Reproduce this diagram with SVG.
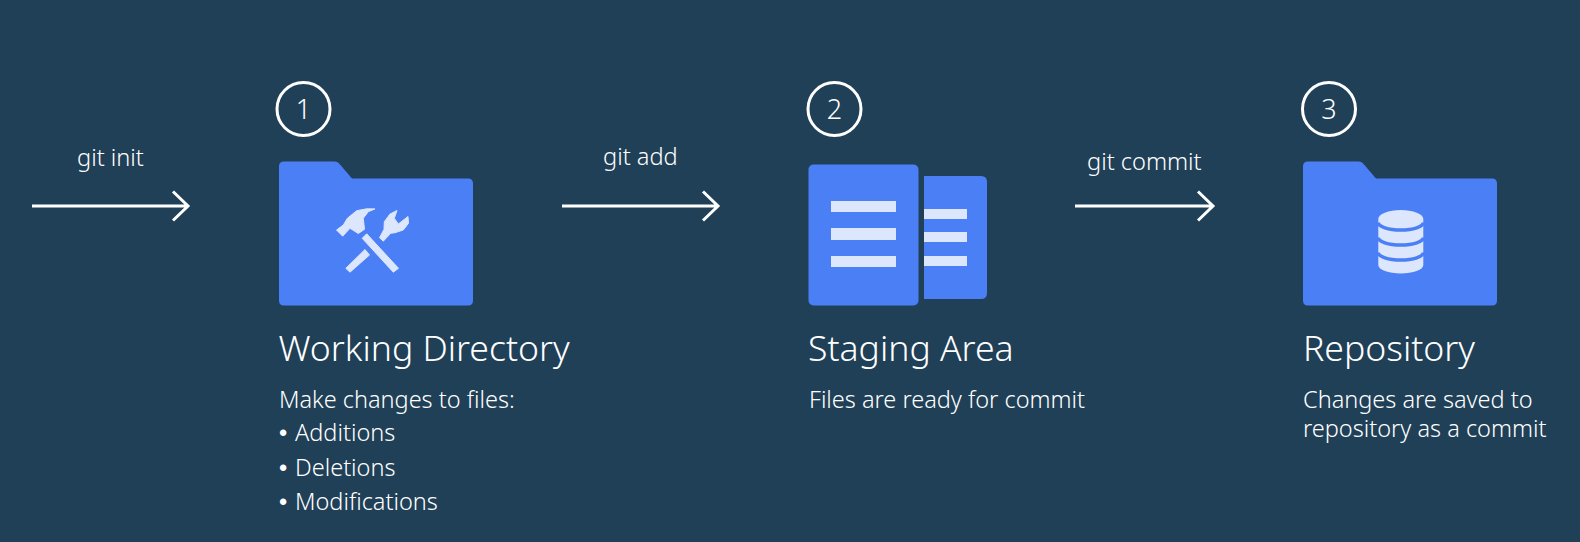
<svg xmlns="http://www.w3.org/2000/svg" width="1580" height="542" viewBox="0 0 1580 542">
<style>
text{font-family:"Noto Sans","Open Sans","Liberation Sans",sans-serif;font-weight:300;fill:#fff}
.t{font-size:35.600px}.b{font-size:23.500px}.c{font-size:23.600px;text-anchor:start}.n{font-size:27px;text-anchor:middle}
.d{font-family:"Liberation Sans",sans-serif;font-weight:400}
.ring{fill:none;stroke:#fff;stroke-width:3}
.blue{fill:#4a7ff5}.ice{fill:#dce6fd}.line{fill:none;stroke:#fff;stroke-width:3}
.band{fill:none;stroke:#4a7ff5;stroke-width:3.500}
.tool{fill:#dce6fd;stroke:#dce6fd;stroke-width:1;stroke-linejoin:round}
</style>
<defs>
<path id="folder" d="M5 0H56Q59 0 61 3L73 17H189Q194 17 194 22V139Q194 144 189 144H5Q0 144 0 139V5Q0 0 5 0Z"/>
</defs>
<rect width="1580" height="542" fill="#204058"/>
<g id="connectors">
<path class="line" d="M32 206H188M173 191.500L188 206L173 220.500"/>
<path class="line" d="M562 206H718M703 191.500L718 206L703 220.500"/>
<path class="line" d="M1075 206H1213M1198 191.500L1213 206L1198 220.500"/>
<text class="c" x="77" y="165.500">git init</text>
<text class="c" x="603" y="164.500">git add</text>
<text class="c" x="1087" y="169.500">git commit</text>
</g>
<g id="working-directory">
<circle class="ring" cx="303.500" cy="109" r="26.500"/>
<text class="n" x="303.500" y="118.500">1</text>
<use href="#folder" class="blue" x="279" y="161.500"/>
<g class="tool">
<path d="M336.500 230L343.300 225L347.300 218.300L356.700 210.700L366.700 208.800L375 208.900L368.300 211.700L363.300 218.300L364.500 229.300L358.300 233.500L350 228.300L342.700 236.200Z"/>
<path d="M362.200 238.300L366.700 233.800L398.500 268.300L393.300 272.200Z"/>
<path d="M345.800 268.300L365 249.500L369.500 255L350 272.200Z"/>
<path d="M379.500 237.700L384 229.300L384.300 221.700L390 214L397 210.500L394.300 218.300L398.300 224L408 216.500L408.500 223.300L403.300 230L395 232.700L390.700 233.300L383.300 241.200Z"/>
</g>
<text class="t" x="278.500" y="360.500">Working Directory</text>
<text class="b" x="279" y="407.500">Make changes to files:</text>
<text class="b" x="279" y="441"><tspan class="d">•</tspan><tspan x="295">Additions</tspan></text>
<text class="b" x="279" y="476"><tspan class="d">•</tspan><tspan x="295">Deletions</tspan></text>
<text class="b" x="279" y="510"><tspan class="d">•</tspan><tspan x="295">Modifications</tspan></text>
</g>
<g id="staging-area">
<circle class="ring" cx="834.500" cy="109" r="26.500"/>
<text class="n" x="834.500" y="118.500">2</text>
<path class="blue" d="M924 176H981Q987 176 987 182V293Q987 299 981 299H924Z"/>
<rect class="ice" x="924" y="209" width="43" height="10"/>
<rect class="ice" x="924" y="232" width="43" height="10"/>
<rect class="ice" x="924" y="256" width="43" height="10"/>
<rect class="blue" x="808.500" y="164.500" width="110" height="141" rx="5"/>
<rect class="ice" x="831" y="201" width="65" height="11"/>
<rect class="ice" x="831" y="228" width="65" height="12"/>
<rect class="ice" x="831" y="256" width="65" height="11"/>
<text class="t" x="808" y="360.500">Staging Area</text>
<text class="b" x="809" y="407.500">Files are ready for commit</text>
</g>
<g id="repository">
<circle class="ring" cx="1329" cy="109" r="26.500"/>
<text class="n" x="1329" y="118.500">3</text>
<use href="#folder" class="blue" x="1303" y="161.500"/>
<path class="ice" d="M1378.300 219A22.500 9 0 0 1 1423.300 219V265A22.500 8.500 0 0 1 1378.300 265Z"/>
<path class="band" d="M1378.300 222.500A22.500 7.500 0 0 0 1423.300 222.500M1378.300 237.500A22.500 7.500 0 0 0 1423.300 237.500M1378.300 252.500A22.500 7.500 0 0 0 1423.300 252.500"/>
<text class="t" x="1303" y="360.500">Repository</text>
<text class="b" x="1303" y="407.500">Changes are saved to<tspan x="1303" y="437">repository as a commit</tspan></text>
</g>
</svg>
